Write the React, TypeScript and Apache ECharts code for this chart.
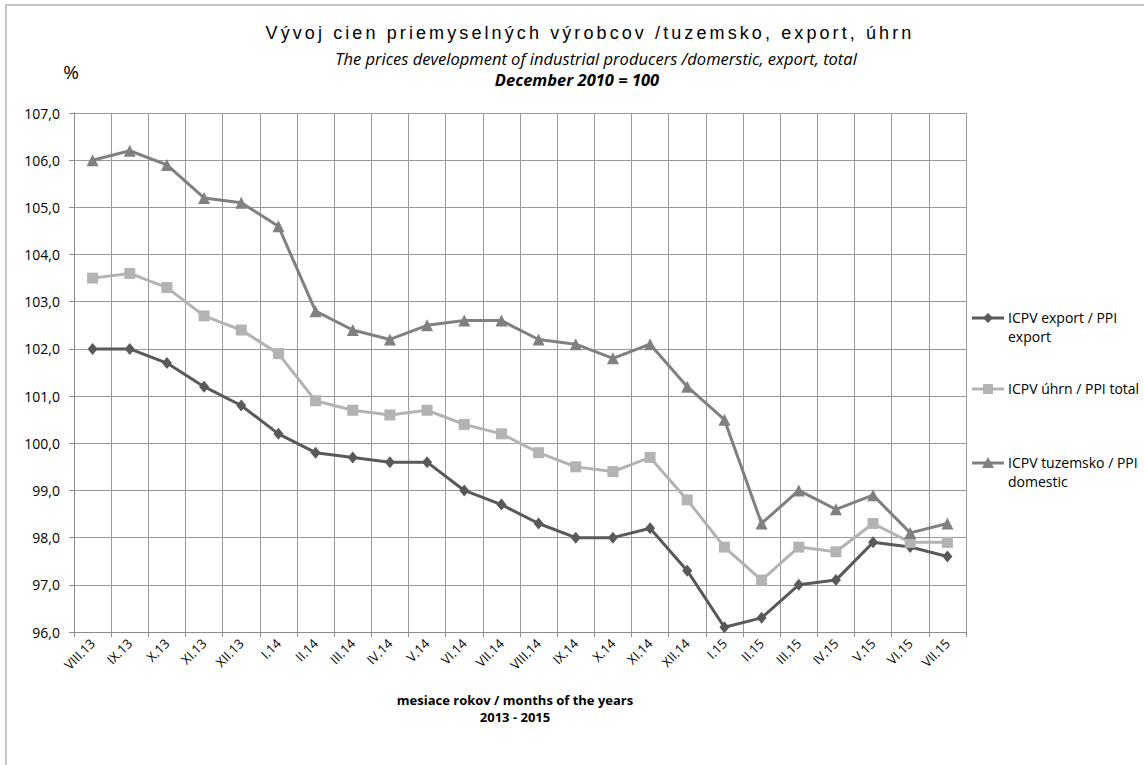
import React, { useEffect, useRef } from "react";
import * as echarts from "echarts";

const categories = [
  "VIII.13", "IX.13", "X.13", "XI.13", "XII.13", "I.14", "II.14", "III.14",
  "IV.14", "V.14", "VI.14", "VII.14", "VIII.14", "IX.14", "X.14", "XI.14",
  "XII.14", "I.15", "II.15", "III.15", "IV.15", "V.15", "VI.15", "VII.15",
];

const exportValues = [
  102.0, 102.0, 101.7, 101.2, 100.8, 100.2, 99.8, 99.7, 99.6, 99.6, 99.0, 98.7,
  98.3, 98.0, 98.0, 98.2, 97.3, 96.1, 96.3, 97.0, 97.1, 97.9, 97.8, 97.6,
];

const totalValues = [
  103.5, 103.6, 103.3, 102.7, 102.4, 101.9, 100.9, 100.7, 100.6, 100.7, 100.4, 100.2,
  99.8, 99.5, 99.4, 99.7, 98.8, 97.8, 97.1, 97.8, 97.7, 98.3, 97.9, 97.9,
];

const domesticValues = [
  106.0, 106.2, 105.9, 105.2, 105.1, 104.6, 102.8, 102.4, 102.2, 102.5, 102.6, 102.6,
  102.2, 102.1, 101.8, 102.1, 101.2, 100.5, 98.3, 99.0, 98.6, 98.9, 98.1, 98.3,
];

const seriesNames = [
  "ICPV export / PPI export",
  "ICPV úhrn / PPI total",
  "ICPV tuzemsko / PPI domestic",
];
const legendLabels = [
  "ICPV export / PPI\nexport",
  "ICPV úhrn / PPI total",
  "ICPV tuzemsko / PPI\ndomestic",
];

const yTicks = { min: 96, max: 107, interval: 1 };

const titleLines = [
  "Vývoj cien priemyselných výrobcov /tuzemsko, export, úhrn",
  "The prices development of industrial producers /domerstic, export, total",
  "December 2010 = 100",
];
const xAxisTitle = "mesiace rokov / months of the years\n2013 - 2015";

const colors = ["#595959", "#b3b3b3", "#808080"];
const FONT = "'Open Sans', 'Noto Sans', sans-serif";

function legendItem(y: number, idx: number) {
  const color = colors[idx];
  let marker: any;
  const cx = 988;
  if (idx === 0) {
    marker = {
      type: "polygon",
      shape: { points: [[cx, y - 5], [cx + 5, y], [cx, y + 5], [cx - 5, y]] },
      style: { fill: color },
    };
  } else if (idx === 1) {
    marker = { type: "rect", shape: { x: cx - 5, y: y - 5, width: 10, height: 10 }, style: { fill: color } };
  } else {
    marker = {
      type: "polygon",
      shape: { points: [[cx, y - 6], [cx + 6, y + 5], [cx - 6, y + 5]] },
      style: { fill: color },
    };
  }
  return [
    { type: "line", shape: { x1: 972, y1: y, x2: 1004, y2: y }, style: { stroke: color, lineWidth: 3 } },
    marker,
    {
      type: "text",
      x: 1008,
      y: y - 10,
      style: {
        text: legendLabels[idx],
        fill: "#000",
        font: `14px ${FONT}`,
        lineHeight: 19,
        textAlign: "left",
        textVerticalAlign: "top",
      },
    },
  ];
}

export default function App() {
  const ref = useRef<HTMLDivElement>(null);
  useEffect(() => {
    if (!ref.current) return;
    const el = ref.current;
    const chart = echarts.init(el, undefined, { renderer: "svg" });
    const mk = (name: string, data: number[], color: string, symbol: string, size: number | number[]) => ({
      name,
      type: "line",
      data,
      symbol,
      symbolSize: size,
      showSymbol: true,
      lineStyle: { color, width: 3 },
      itemStyle: { color },
      emphasis: { disabled: true },
    });
    chart.setOption({
      animation: false,
      backgroundColor: "#ffffff",
      grid: { left: 74, right: 178, top: 113, bottom: 133, containLabel: false },
      xAxis: {
        type: "category",
        data: categories,
        boundaryGap: true,
        axisLine: { show: true, lineStyle: { color: "#8c8c8c", width: 1 } },
        axisTick: { show: true, length: 5, lineStyle: { color: "#8c8c8c" } },
        splitLine: { show: true, lineStyle: { color: "#999999", width: 1 } },
        axisLabel: {
          interval: 0,
          rotate: 45,
          margin: 9,
          color: "#000",
          fontSize: 13,
          fontFamily: FONT,
        },
      },
      yAxis: {
        type: "value",
        min: yTicks.min,
        max: yTicks.max,
        interval: yTicks.interval,
        axisLine: { show: true, lineStyle: { color: "#8c8c8c", width: 1 } },
        axisTick: { show: true, length: 5, lineStyle: { color: "#8c8c8c" } },
        splitLine: { show: true, lineStyle: { color: "#999999", width: 1 } },
        axisLabel: {
          margin: 14,
          color: "#000",
          fontSize: 14,
          fontFamily: FONT,
          formatter: (v: number) => v.toFixed(1).replace(".", ","),
        },
      },
      series: [
        mk(seriesNames[0], exportValues, colors[0], "diamond", [10, 12]),
        mk(seriesNames[1], totalValues, colors[1], "rect", 11),
        mk(seriesNames[2], domesticValues, colors[2], "triangle", 12),
      ],
      graphic: [
        {
          type: "rect",
          shape: { x: 6, y: 5, width: 1300, height: 900 },
          style: { fill: "none", stroke: "#c4c4c4", lineWidth: 2 },
          silent: true,
          z: -10,
        },
        {
          type: "text",
          x: 590,
          y: 33,
          style: {
            text: titleLines[0],
            fill: "#000",
            font: "18px 'Liberation Sans', Arial, sans-serif",
            textAlign: "center",
            textVerticalAlign: "middle",
          },
        },
        {
          type: "text",
          x: 596,
          y: 58,
          style: {
            text: titleLines[1],
            fill: "#000",
            font: `italic 16.5px ${FONT}`,
            textAlign: "center",
            textVerticalAlign: "middle",
          },
        },
        {
          type: "text",
          x: 577,
          y: 79,
          style: {
            text: titleLines[2],
            fill: "#000",
            font: `italic bold 16.5px ${FONT}`,
            textAlign: "center",
            textVerticalAlign: "middle",
          },
        },
        {
          type: "text",
          x: 71,
          y: 72,
          style: {
            text: "%",
            fill: "#000",
            font: `19px ${FONT}`,
            textAlign: "center",
            textVerticalAlign: "middle",
          },
        },
        {
          type: "text",
          x: 515,
          y: 691,
          style: {
            text: xAxisTitle,
            fill: "#000",
            font: `bold 13px ${FONT}`,
            lineHeight: 17,
            textAlign: "center",
            textVerticalAlign: "top",
          },
        },
        ...legendItem(318, 0),
        ...legendItem(389, 1),
        ...legendItem(463, 2),
      ],
    });
    const spaceTitle = () => {
      el.querySelectorAll("text").forEach((t) => {
        if (t.textContent === titleLines[0]) {
          (t as SVGTextElement).style.letterSpacing = "3.1px";
        }
      });
    };
    spaceTitle();
    chart.on("finished", spaceTitle);
    return () => chart.dispose();
  }, []);
  return (
    <div
      ref={ref}
      style={{ position: "absolute", left: 0, top: 0, width: 1144, height: 765 }}
    />
  );
}
